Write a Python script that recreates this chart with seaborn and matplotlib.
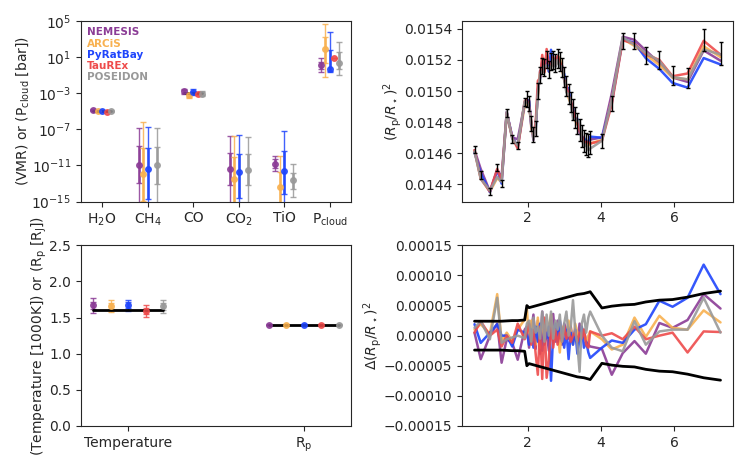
import numpy as np
import pandas as pd
import matplotlib
matplotlib.use("Agg")
import matplotlib.pyplot as plt
import matplotlib.ticker as ticker
from matplotlib.lines import Line2D
import seaborn as sns

sns.set_style("ticks")

models = ["NEMESIS", "ARCiS", "PyRatBay", "TauREx", "POSEIDON"]
colors = ["#8b3c96", "#f8b150", "#1f45fc", "#ee4b4b", "#999999"]
nan = np.nan

# retrieved abundances / cloud pressure (log10), one row per model
params = ["H$_2$O", "CH$_4$", "CO", "CO$_2$", "TiO", "P$_{\\rm cloud}$"]
log_med = [
    [-4.85, -11.0, -2.8, -11.4, -10.8, 0.1],
    [-5.0, -11.9, -3.25, -12.5, -13.4, 1.87],
    [-4.95, -11.4, -2.85, -11.7, -11.6, -0.27],
    [-5.03, nan, -3.05, nan, nan, 0.95],
    [-4.98, -11.0, -3.05, -11.5, -12.6, 0.36],
]
log_lo1 = [
    [-4.89, -13.0, -2.95, -13.2, -11.3, -0.34],
    [-5.04, -14.9, -3.4, -16.0, -16.0, 0.4],
    [-4.99, -14.7, -3.0, -14.6, -14.2, -0.55],
    [-5.07, nan, -3.15, nan, nan, 0.95],
    [-5.02, -13.1, -3.2, -13.2, -13.6, -0.27],
]
log_hi1 = [
    [-4.81, -8.85, -2.65, -9.6, -10.3, 0.47],
    [-4.96, -9.1, -3.1, -10.1, -11.7, 3.2],
    [-4.91, -9.1, -2.7, -9.7, -9.4, 1.76],
    [-4.99, nan, -2.95, nan, nan, 0.95],
    [-4.94, -9.0, -2.9, -9.7, -11.8, 1.6],
]
log_lo2 = [
    [-4.93, -18, -3.1, -18, -11.6, -0.6],
    [-5.08, -18, -3.55, -18, -18, -1.2],
    [-5.03, -18, -3.15, -18, -18, -0.7],
    [-5.11, nan, -3.25, nan, nan, 0.95],
    [-5.06, -18, -3.35, -18, -14.5, -1.0],
]
log_hi2 = [
    [-4.77, -6.8, -2.5, -7.7, -10.0, 0.9],
    [-4.92, -6.2, -2.95, -7.7, -10.0, 4.7],
    [-4.87, -6.7, -2.55, -7.6, -7.2, 3.75],
    [-4.95, nan, -2.85, nan, nan, 0.95],
    [-4.9, -6.9, -2.75, -7.9, -10.8, 2.7],
]
truth_idx = [0, 2]
truth_log = [-5.0, -3.0]

# temperature [1000 K] and radius [R_J]
phys = ["Temperature", "R$_{\\rm p}$"]
phys_med = [[1.67, 1.40], [1.66, 1.40], [1.67, 1.40], [1.59, 1.40], [1.655, 1.40]]
phys_err1 = [[0.05, 0.004], [0.04, 0.004], [0.04, 0.004], [0.04, 0.004], [0.05, 0.004]]
phys_err2 = [[0.1, 0.006], [0.08, 0.006], [0.08, 0.006], [0.08, 0.006], [0.09, 0.006]]
phys_truth = [1.6, 1.4]

# observed spectrum
wave = [0.55, 0.72, 0.97, 1.17, 1.29, 1.43, 1.58, 1.73, 1.92,
        1.98, 2.04, 2.10, 2.16, 2.22, 2.28, 2.34, 2.40, 2.46, 2.52,
        2.58, 2.64, 2.70, 2.76, 2.82, 2.88, 2.94, 3.00, 3.06, 3.12,
        3.18, 3.24, 3.30, 3.36, 3.42, 3.48, 3.54, 3.60, 3.66,
        3.71, 4.03, 4.30, 4.60, 4.92, 5.23, 5.60, 5.96, 6.37, 6.81, 7.27]
depth = [0.014625, 0.01446, 0.014355, 0.01451, 0.014405, 0.01486, 0.01469, 0.01465, 0.01493,
         0.01495, 0.01492, 0.01479, 0.01472, 0.01476, 0.01500, 0.01510, 0.01516, 0.01515, 0.01520,
         0.01514, 0.01519, 0.01520, 0.01518, 0.01521, 0.01519, 0.01515, 0.01509, 0.01503, 0.01498,
         0.01493, 0.01488, 0.01483, 0.01479, 0.01475, 0.01471, 0.01468, 0.01466, 0.01465,
         0.01467, 0.01468, 0.01492, 0.01532, 0.01532, 0.01523, 0.01520, 0.01510, 0.015085, 0.01533, 0.01524]
err = [2.4e-5, 2.4e-5, 2.4e-5, 2.4e-5, 2.4e-5, 2.45e-5, 2.5e-5, 2.5e-5, 2.6e-5,
       5.0e-5, 4.65e-5, 4.75e-5, 4.85e-5, 4.95e-5, 5.05e-5, 5.15e-5, 5.25e-5, 5.35e-5, 5.45e-5,
       5.55e-5, 5.65e-5, 5.75e-5, 5.85e-5, 5.95e-5, 6.05e-5, 6.15e-5, 6.25e-5, 6.35e-5, 6.45e-5,
       6.55e-5, 6.65e-5, 6.75e-5, 6.85e-5, 6.9e-5, 6.95e-5, 7.0e-5, 7.1e-5, 7.2e-5,
       7.3e-5, 4.6e-5, 4.9e-5, 5.1e-5, 5.2e-5, 5.6e-5, 5.9e-5, 6.0e-5, 6.4e-5, 7.0e-5, 7.4e-5]

# data minus model, in units of 1e-6
resid_nemesis = [5, -39, 0, 20, -45, -6, -12, -40, 10,
                 15, -20, 10, 35, -22, 25, -30, 40, -15, 10, -25, 20, 36, -10, 25, 5, -15, 20, 10, -5,
                 15, -10, 5, -15, 20, -5, 10, -10, -15,
                 -18, -22, -65, -29, -9, -30, 21, 13, 26, 69, 45]
resid_arcis = [10, 19, 3, 69, -9, 5, -9, 10, 27,
               45, -10, 25, 5, -15, 30, -20, 10, 25, -5, 15, 35, -10, 20, 5, -28, 15, 10, -5, 25,
               10, -15, 20, 5, -10, 15, 0, -10, 0,
               7, -6, -23, -15, 30, -2, 33, 13, 10, 42, 22]
resid_pyratbay = [19, -12, 5, 19, 0, 0, -18, 10, 5,
                  5, -15, 10, -20, 15, -10, 20, -25, 10, -5, 15, -75, 5, 20, -10, 25, 5, -20, 10, -39,
                  5, -15, 10, -30, -5, 15, -20, -10, -28,
                  -37, -20, -8, -12, 10, 19, 58, 48, 63, 118, 69]
resid_taurex = [5, 24, 0, 10, -18, 0, -12, 20, -6,
                5, 20, -15, 10, -30, -65, 15, -72, 30, -70, -40, 25, -20, 10, -15, 5, -10, 15, -5, 10,
                -10, 0, 5, -10, 5, -5, 10, -15, -20,
                7, 0, 4, -6, 15, -6, 0, 5, -28, 7, 6]
resid_poseidon = [13, 24, -6, 63, -12, -6, -3, 0, -4,
                  20, 25, -10, 30, 5, 15, -5, 40, -10, 35, 0, 40, -5, 25, 10, 35, -10, 20, 40, 0,
                  15, 59, 10, -15, -60, 20, 35, 5, 30,
                  40, 0, -20, -26, 24, -15, 7, 10, 10, 63, 5]
resids = [resid_nemesis, resid_arcis, resid_pyratbay, resid_taurex, resid_poseidon]

rows = []
for name, r in zip(models, resids):
    for w, d, dr in zip(wave, depth, r):
        rows.append({"model": name, "wave": w, "model_depth": d - dr * 1e-6, "resid": dr * 1e-6})
spec = pd.DataFrame(rows)
palette = dict(zip(models, colors))

fig, axes = plt.subplots(2, 2, figsize=(7.47, 4.67), dpi=100)
fig.subplots_adjust(left=0.108, right=0.981, bottom=0.088, top=0.955, wspace=0.41, hspace=0.243)
offsets = [-0.2, -0.1, 0.0, 0.1, 0.2]

# abundances
ax = axes[0, 0]
for i, c in enumerate(colors):
    x = np.arange(len(params)) + offsets[i]
    med = 10 ** np.array(log_med[i])
    lo1, hi1 = 10 ** np.array(log_lo1[i]), 10 ** np.array(log_hi1[i])
    lo2, hi2 = 10 ** np.array(log_lo2[i]), 10 ** np.array(log_hi2[i])
    ax.errorbar(x, med, yerr=[med - lo2, hi2 - med], fmt="none", ecolor=c, elinewidth=1, capsize=2, alpha=0.85)
    ax.errorbar(x, med, yerr=[med - lo1, hi1 - med], fmt="o", color=c, ms=4, elinewidth=2, capsize=2, alpha=0.85)
for k, t in zip(truth_idx, truth_log):
    ax.plot([k - 0.2, k + 0.2], [10 ** t, 10 ** t], color="k", lw=2)
ax.set_yscale("log")
ax.set_ylim(1e-15, 1e5)
ax.set_yticks(10.0 ** np.arange(-15, 6, 4))
ax.yaxis.set_minor_locator(ticker.NullLocator())
ax.set_xticks(range(len(params)))
ax.set_xticklabels(params)
ax.set_ylabel("(VMR) or (P$_{\\rm cloud}$ [bar])", labelpad=0)
handles = [Line2D([], [], ls="none") for _ in models]
ax.legend(handles, models, loc="upper left", frameon=False, handlelength=0, handletextpad=0,
          labelspacing=0.12, borderaxespad=0.2, labelcolor=colors, prop={"weight": "bold", "size": 7.5})

# spectrum
ax = axes[0, 1]
sns.lineplot(data=spec, x="wave", y="model_depth", hue="model", palette=palette, lw=1.8,
             alpha=0.9, legend=False, sort=False, ax=ax)
ax.errorbar(wave, depth, yerr=err, fmt="none", ecolor="k", elinewidth=1, capsize=1.5)
ax.set_ylim(0.01429, 0.01545)
ax.set_yticks([0.0144, 0.0146, 0.0148, 0.0150, 0.0152, 0.0154])
ax.yaxis.set_major_formatter(ticker.FormatStrFormatter("%.4f"))
ax.set_xticks([2, 4, 6])
ax.set_xlabel("")
ax.set_ylabel("$(R_{\\rm p}/R_\\star)^2$", labelpad=0)

# temperature and radius
ax = axes[1, 0]
for i, c in enumerate(colors):
    x = np.arange(len(phys)) + offsets[i]
    med = np.array(phys_med[i])
    ax.errorbar(x, med, yerr=phys_err2[i], fmt="none", ecolor=c, elinewidth=1, capsize=2, alpha=0.85)
    ax.errorbar(x, med, yerr=phys_err1[i], fmt="o", color=c, ms=4, elinewidth=2, capsize=2, alpha=0.85)
for k, t in enumerate(phys_truth):
    ax.plot([k - 0.2, k + 0.2], [t, t], color="k", lw=2)
ax.set_ylim(0, 2.5)
ax.set_xticks(range(len(phys)))
ax.set_xticklabels(phys)
ax.set_ylabel("(Temperature [1000K]) or (R$_{\\rm p}$ [R$_{\\rm J}$])", labelpad=0)

# residuals
ax = axes[1, 1]
sns.lineplot(data=spec, x="wave", y="resid", hue="model", palette=palette, lw=1.8,
             alpha=0.9, legend=False, sort=False, ax=ax)
ax.plot(wave, err, color="k", lw=2)
ax.plot(wave, -np.array(err), color="k", lw=2)
ax.set_ylim(-0.00015, 0.00015)
ax.set_yticks([-0.00015, -0.0001, -0.00005, 0, 0.00005, 0.0001, 0.00015])
fmt = ticker.ScalarFormatter(useOffset=False)
fmt.set_scientific(False)
ax.yaxis.set_major_formatter(fmt)
ax.set_xticks([2, 4, 6])
ax.set_xlabel("")
ax.set_ylabel("$\\Delta(R_{\\rm p}/R_\\star)^2$", labelpad=0)

fig.savefig("out.png", dpi=100)
